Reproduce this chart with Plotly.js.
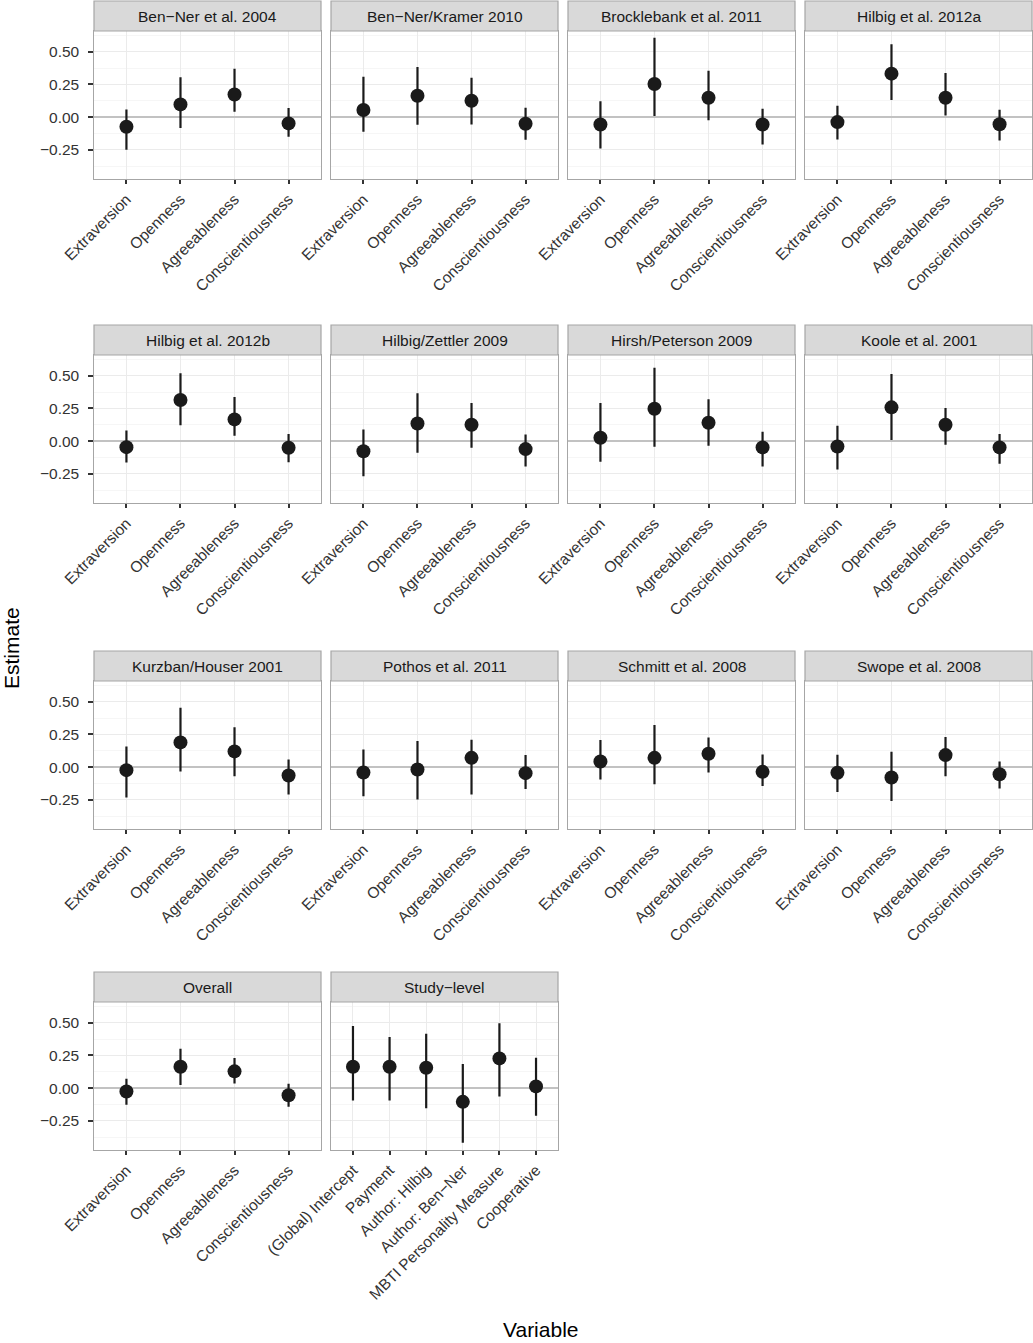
<!DOCTYPE html>
<html><head><meta charset="utf-8">
<script src="https://cdn.plot.ly/plotly-3.0.1.min.js"></script>
<style>html,body{margin:0;padding:0;background:#fff}#chart{width:1033px;height:1343px}</style>
</head><body><div id="chart"></div>
<script>
// ---------- data ----------
const panelTitles = ["Ben\u2212Ner et al. 2004","Ben\u2212Ner/Kramer 2010","Brocklebank et al. 2011","Hilbig et al. 2012a",
  "Hilbig et al. 2012b","Hilbig/Zettler 2009","Hirsh/Peterson 2009","Koole et al. 2001",
  "Kurzban/Houser 2001","Pothos et al. 2011","Schmitt et al. 2008","Swope et al. 2008",
  "Overall","Study\u2212level"];
const traitCategories = ["Extraversion","Openness","Agreeableness","Conscientiousness"];
const studyLevelCategories = ["(Global) Intercept","Payment","Author: Hilbig","Author: Ben\u2212Ner","MBTI Personality Measure","Cooperative"];

const estimate = [
  [-0.074, 0.097, 0.173, -0.048],
  [ 0.054, 0.163, 0.125, -0.051],
  [-0.056, 0.253, 0.148, -0.056],
  [-0.038, 0.332, 0.148, -0.054],
  [-0.046, 0.314, 0.166, -0.051],
  [-0.077, 0.135, 0.125, -0.061],
  [ 0.026, 0.247, 0.140, -0.048],
  [-0.041, 0.258, 0.125, -0.048],
  [-0.023, 0.189, 0.120, -0.064],
  [-0.041, -0.018, 0.071, -0.046],
  [ 0.043, 0.071, 0.102, -0.036],
  [-0.043, -0.079, 0.092, -0.054],
  [-0.026, 0.163, 0.128, -0.054],
  [ 0.163, 0.163, 0.156, -0.105, 0.227, 0.013]
];
const lower = [
  [-0.250, -0.084, 0.041, -0.150],
  [-0.112, -0.059, -0.056, -0.173],
  [-0.240, 0.008, -0.023, -0.209],
  [-0.171, 0.130, 0.013, -0.179],
  [-0.163, 0.122, 0.041, -0.161],
  [-0.268, -0.089, -0.051, -0.194],
  [-0.158, -0.043, -0.036, -0.194],
  [-0.217, 0.008, -0.028, -0.173],
  [-0.232, -0.033, -0.069, -0.209],
  [-0.222, -0.247, -0.209, -0.168],
  [-0.094, -0.130, -0.041, -0.145],
  [-0.191, -0.258, -0.069, -0.163],
  [-0.128, 0.023, 0.036, -0.143],
  [-0.094, -0.094, -0.153, -0.418, -0.064, -0.212]
];
const upper = [
  [0.059, 0.304, 0.370, 0.069],
  [0.309, 0.383, 0.301, 0.071],
  [0.122, 0.607, 0.355, 0.064],
  [0.087, 0.556, 0.337, 0.056],
  [0.082, 0.518, 0.337, 0.054],
  [0.089, 0.365, 0.291, 0.051],
  [0.291, 0.561, 0.319, 0.071],
  [0.117, 0.513, 0.253, 0.054],
  [0.158, 0.454, 0.304, 0.059],
  [0.135, 0.199, 0.209, 0.092],
  [0.207, 0.321, 0.227, 0.097],
  [0.094, 0.117, 0.230, 0.043],
  [0.071, 0.301, 0.230, 0.033],
  [0.474, 0.390, 0.416, 0.184, 0.495, 0.232]
];
const yTickVals = [-0.25, 0, 0.25, 0.5];
const yTickText = ["\u22120.25", "0.00", "0.25", "0.50"];
const yMinorVals = [-0.375, -0.125, 0.125, 0.375, 0.625];
const yAxisTitle = "Estimate";
const xAxisTitle = "Variable";

// ---------- layout geometry (pixels) ----------
const W = 1033, H = 1343;
const colLeft = [94, 331, 568, 805];
const panelW = 227;
const stripTop = [1, 325, 651, 972];
const stripH = 30, plotH = 147.5;
const FONT = "Liberation Sans, Arial, Helvetica, sans-serif";

const data = [];
const layout = {
  width: W, height: H,
  margin: {l: 0, r: 0, t: 0, b: 0},
  paper_bgcolor: "#ffffff", plot_bgcolor: "#ffffff",
  showlegend: false,
  font: {family: FONT, color: "#333"},
  shapes: [], annotations: []
};

panelTitles.forEach((title, i) => {
  const row = Math.floor(i / 4), col = i % 4;
  const cats = (i === 13) ? studyLevelCategories : traitCategories;
  const sfx = i === 0 ? "" : String(i + 1);
  const xa = "x" + sfx, ya = "y" + sfx;
  const x0 = colLeft[col], x1 = colLeft[col] + panelW;
  const top = stripTop[row] + stripH, bot = top + plotH;

  data.push({
    type: "scatter", mode: "markers",
    x: cats, y: estimate[i],
    xaxis: xa, yaxis: ya,
    marker: {size: 14, color: "#1a1a1a"},
    error_y: {
      type: "data", symmetric: false,
      array: upper[i].map((u, k) => u - estimate[i][k]),
      arrayminus: lower[i].map((l, k) => estimate[i][k] - l),
      color: "#1a1a1a", thickness: 2.2, width: 0
    },
    hoverinfo: "skip"
  });

  layout["xaxis" + sfx] = {
    domain: [x0 / W, x1 / W],
    anchor: ya,
    type: "category",
    categoryorder: "array", categoryarray: cats,
    range: [-0.6, cats.length - 0.4],
    tickangle: -45,
    ticks: "outside", ticklen: 4.5, tickwidth: 2, tickcolor: "#333",
    tickfont: {family: FONT, size: 15.5, color: "#333"},
    showgrid: true, gridcolor: "#ebebeb", gridwidth: 1,
    zeroline: false,
    showline: true, mirror: true, linecolor: "#a6a6a6", linewidth: 1.2,
    fixedrange: true
  };
  layout["yaxis" + sfx] = {
    domain: [1 - bot / H, 1 - top / H],
    anchor: xa,
    range: [-0.469, 0.658],
    tickmode: "array", tickvals: yTickVals, ticktext: yTickText,
    showticklabels: col === 0,
    ticks: col === 0 ? "outside" : "",
    ticklen: 4.5, tickwidth: 2, tickcolor: "#333",
    ticklabelstandoff: 6,
    tickfont: {family: FONT, size: 15.5, color: "#333"},
    showgrid: true, gridcolor: "#ebebeb", gridwidth: 1,
    minor: {tickmode: "array", tickvals: yMinorVals, showgrid: true, gridcolor: "#f6f6f6", gridwidth: 1, ticks: ""},
    zeroline: true, zerolinecolor: "#c2c2c2", zerolinewidth: 1.6,
    showline: true, mirror: true, linecolor: "#a6a6a6", linewidth: 1.2,
    fixedrange: true
  };

  // strip
  layout.shapes.push({
    type: "rect", xref: "paper", yref: "paper",
    x0: x0 / W, x1: x1 / W,
    y0: 1 - top / H, y1: 1 - stripTop[row] / H,
    fillcolor: "#d9d9d9", line: {color: "#a6a6a6", width: 1.2}
  });
  layout.annotations.push({
    xref: "paper", yref: "paper",
    x: (x0 + x1) / 2 / W, y: 1 - (stripTop[row] + stripH / 2 + 0.5) / H,
    xanchor: "center", yanchor: "middle",
    text: title, showarrow: false,
    font: {family: FONT, size: 15.5, color: "#1a1a1a"}
  });
});

layout.annotations.push({
  xref: "paper", yref: "paper", x: 12 / W, y: 1 - 648 / H,
  xanchor: "center", yanchor: "middle", textangle: -90,
  text: yAxisTitle, showarrow: false,
  font: {family: FONT, size: 21, color: "#000"}
});
layout.annotations.push({
  xref: "paper", yref: "paper", x: 541 / W, y: 1 - 1329 / H,
  xanchor: "center", yanchor: "middle",
  text: xAxisTitle, showarrow: false,
  font: {family: FONT, size: 21, color: "#000"}
});

Plotly.newPlot("chart", data, layout, {staticPlot: true, displayModeBar: false});
</script>
</body></html>
